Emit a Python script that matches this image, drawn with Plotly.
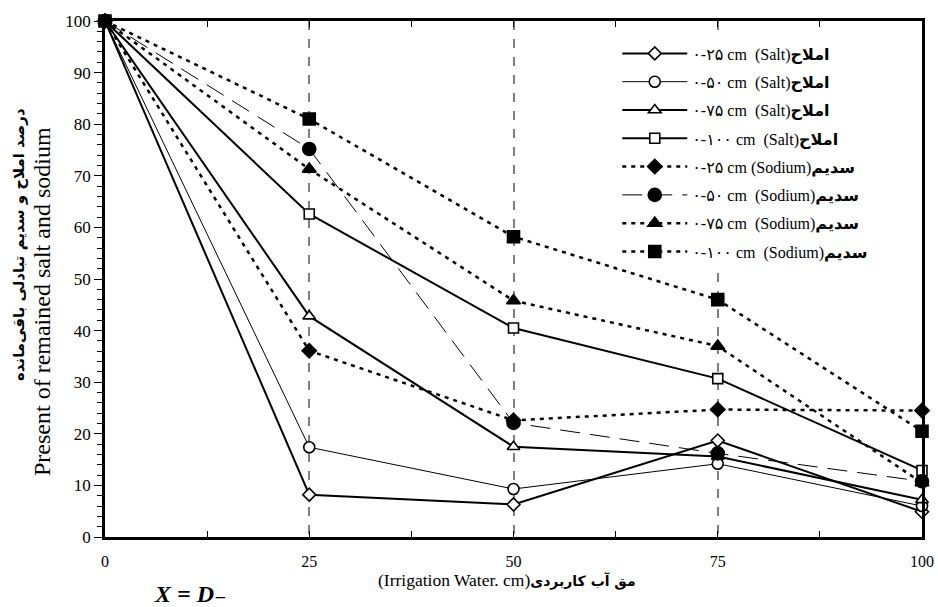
import plotly.graph_objects as go

x_water = [0, 25, 50, 75, 100]

salt_0_25 = [100, 8.2, 6.3, 18.7, 4.9]
salt_0_50 = [100, 17.4, 9.3, 14.2, 6.0]
salt_0_75 = [100, 42.8, 17.5, 15.6, 7.2]
salt_0_100 = [100, 62.6, 40.5, 30.7, 12.9]
sodium_0_25 = [100, 36.1, 22.6, 24.7, 24.5]
sodium_0_50 = [100, 75.2, 22.1, 16.2, 10.8]
sodium_0_75 = [100, 71.3, 45.8, 37.0, 10.5]
sodium_0_100 = [100, 81.0, 58.2, 46.0, 20.5]

names = [
    "۰-۲۵ cm  (Salt)<b>املاح</b>",
    "۰-۵۰ cm  (Salt)<b>املاح</b>",
    "۰-۷۵ cm  (Salt)<b>املاح</b>",
    "۰-۱۰۰ cm  (Salt)<b>املاح</b>",
    "۰-۲۵ cm (Sodium)<b>سدیم</b>",
    "۰-۵۰ cm  (Sodium)<b>سدیم</b>",
    "۰-۷۵ cm  (Sodium)<b>سدیم</b>",
    "۰-۱۰۰ cm  (Sodium)<b>سدیم</b>",
]
series = [salt_0_25, salt_0_50, salt_0_75, salt_0_100,
          sodium_0_25, sodium_0_50, sodium_0_75, sodium_0_100]

styles = [
    dict(sym="diamond", fill="white", lw=2, dash="solid", ms=10),
    dict(sym="circle", fill="white", lw=1, dash="solid", ms=11),
    dict(sym="triangle-up", fill="white", lw=2, dash="solid", ms=11),
    dict(sym="square", fill="white", lw=2, dash="solid", ms=10),
    dict(sym="diamond", fill="black", lw=2.5, dash="4px,5px", ms=11),
    dict(sym="circle", fill="black", lw=1, dash="20px,10px", ms=13),
    dict(sym="triangle-up", fill="black", lw=2.5, dash="4px,5px", ms=12),
    dict(sym="square", fill="black", lw=2.5, dash="4px,5px", ms=12),
]

fig = go.Figure()
for i, (nm, ys, st) in enumerate(zip(names, series, styles)):
    fig.add_trace(go.Scatter(
        x=x_water, y=ys, name=nm, mode="lines+markers",
        legendgroup=f"g{i}",
        line=dict(color="black", width=st["lw"], dash=st["dash"]),
        marker=dict(symbol=st["sym"], size=st["ms"], color=st["fill"],
                    line=dict(color="black", width=1.6)),
        cliponaxis=False,
    ))

serif = "Liberation Serif, DejaVu Sans"

fig.update_layout(
    width=938, height=607,
    margin=dict(l=105, r=16, t=21, b=70, autoexpand=False),
    paper_bgcolor="white", plot_bgcolor="white",
    font=dict(family=serif, size=17, color="black"),
    showlegend=True,
    legend=dict(
        x=0.627, y=0.970, xanchor="left", yanchor="top",
        bgcolor="white", borderwidth=0,
        font=dict(family=serif, size=16, color="black"),
        itemwidth=65, tracegroupgap=4.5,
    ),
    xaxis=dict(
        range=[0, 100], tickvals=[0, 25, 50, 75, 100],
        showgrid=True, gridcolor="#7f7f7f", griddash="dash", gridwidth=1.5,
        showline=True, linecolor="black", linewidth=2.5, mirror="ticks",
        ticks="inside", ticklen=6, tickcolor="black",
        minor=dict(dtick=12.5, ticks="inside", ticklen=6, tickcolor="black", showgrid=False),
        zeroline=False, tickfont=dict(family=serif, size=16),
        ticklabelstandoff=8, ticklabeloverflow="allow", automargin=False,
    ),
    yaxis=dict(
        range=[0, 100], dtick=10,
        showgrid=False,
        showline=True, linecolor="black", linewidth=2.5, mirror=True,
        ticks="outside", ticklen=8, tickcolor="black",
        minor=dict(dtick=2, ticks="outside", ticklen=5, tickcolor="black"),
        zeroline=False, tickfont=dict(family=serif, size=17), automargin=False,
    ),
    annotations=[
        dict(text="<b>درصد املاح و سدیم تبادلی باقی‌مانده</b>", xref="paper", yref="paper",
             x=(19-105)/817, y=(537-245)/516, textangle=-90, showarrow=False,
             font=dict(family="DejaVu Sans", size=15, color="black"),
             xanchor="center", yanchor="middle"),
        dict(text="Present of remained salt and sodium", xref="paper", yref="paper",
             x=(42-105)/817, y=(537-302)/516, textangle=-90, showarrow=False,
             font=dict(family=serif, size=24, color="black"),
             xanchor="center", yanchor="middle"),
        dict(text="(Irrigation Water. cm)<span style='font-family:DejaVu Sans;font-size:14px'><b>مق آب کاربردی</b></span>",
             xref="paper", yref="paper",
             x=(507-105)/817, y=(537-580)/516, showarrow=False,
             font=dict(family=serif, size=17.5, color="black"),
             xanchor="center", yanchor="middle"),
        dict(text="<b><i>X = D</i></b>₋", xref="paper", yref="paper",
             x=(190-105)/817, y=(537-594)/516, showarrow=False,
             font=dict(family=serif, size=24, color="black"),
             xanchor="center", yanchor="middle"),
    ],
)

fig.write_html("out.html", config={"displayModeBar": False},
               post_script="document.body.style.margin='0px';document.body.style.overflow='hidden';")
